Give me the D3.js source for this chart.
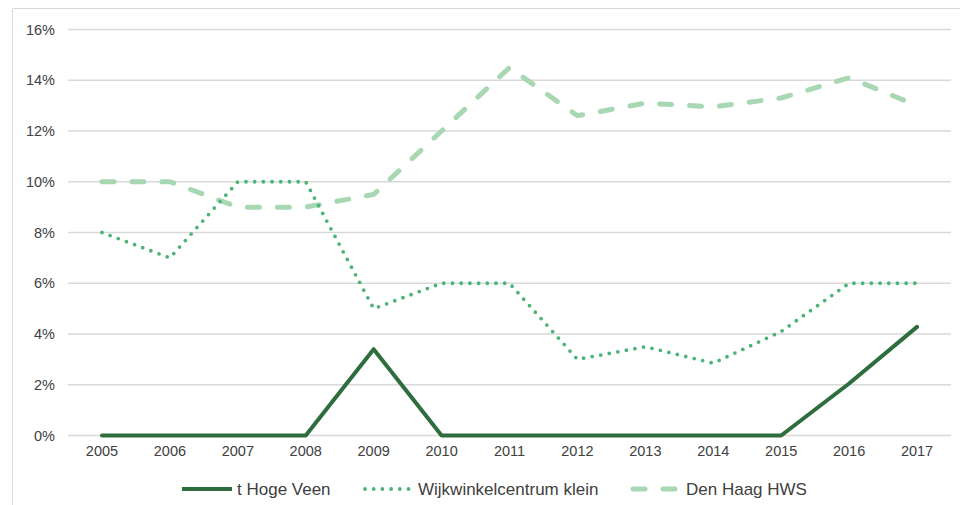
<!DOCTYPE html>
<html><head><meta charset="utf-8">
<script src="https://cdn.jsdelivr.net/npm/d3@7/dist/d3.min.js"></script>
<style>body{margin:0;background:#fff;}svg{display:block;font-family:"Liberation Sans",Arial,sans-serif;}</style>
</head><body><svg id="c" width="960" height="505"></svg>
<script>
const years = ["2005","2006","2007","2008","2009","2010","2011","2012","2013","2014","2015","2016","2017"];
const hogeVeen = [0,0,0,0,3.4,0,0,0,0,0,0,2.05,4.28];
const wijkwinkel = [8,7,10,10,5,6,6,3,3.5,2.85,4.1,6,6];
const denHaag = [10,10,9,9,9.5,12,14.5,12.6,13.1,12.95,13.3,14.1,13];
const yTicks = [0,2,4,6,8,10,12,14,16];
const seriesNames = ["t Hoge Veen","Wijkwinkelcentrum klein","Den Haag HWS"];

const svg = d3.select("#c");
// outer frame
svg.append("path").attr("d","M12.5,505 V8.5 H960").attr("fill","none").attr("stroke","#d9d9d9").attr("stroke-width",1);

const x = d3.scaleBand().domain(years).range([68,951]);
const y = d3.scaleLinear().domain([0,16]).range([435.5,29.5]);
const cx = d => x(d) + x.bandwidth()/2;

// gridlines
svg.append("g").selectAll("line").data(yTicks).join("line")
  .attr("x1",68).attr("x2",951).attr("y1",d=>y(d)).attr("y2",d=>y(d))
  .attr("stroke","#d9d9d9").attr("stroke-width",1.3);

// y axis labels
const yAxis = d3.axisLeft(y).tickValues(yTicks).tickFormat(d=>d+"%").tickSize(0).tickPadding(0);
const gy = svg.append("g").attr("transform","translate(55,0)").call(yAxis);
gy.select(".domain").remove();
gy.selectAll("text").attr("font-size","14.5px").attr("fill","#404040").attr("font-family","Liberation Sans, Arial, sans-serif");

// x axis labels
const xAxis = d3.axisBottom(x).tickSize(0).tickPadding(0);
const gx = svg.append("g").attr("transform","translate(0,446)").call(xAxis);
gx.select(".domain").remove();
gx.selectAll("text").attr("font-size","14.5px").attr("fill","#404040").attr("font-family","Liberation Sans, Arial, sans-serif");

const styles = [
  {color:"#2e6d3d", width:4, dash:null, data:hogeVeen},
  {color:"#4cb479", width:3.8, dash:"0 8.7", data:wijkwinkel},
  {color:"#a8d8b3", width:5, dash:"12 18", data:denHaag}
];

const order = [2,1,0];
order.forEach(i=>{
  const s = styles[i];
  const line = d3.line().x((d,j)=>cx(years[j])).y(d=>y(d)).curve(d3.curveLinear);
  svg.append("path").datum(s.data).attr("d",line).attr("fill","none")
    .attr("stroke",s.color).attr("stroke-width",s.width)
    .attr("stroke-linecap","round").attr("stroke-linejoin","round")
    .attr("stroke-dasharray",s.dash);
});

// legend
const legX = [182,365,633];
const legLen = [50,48,48];
const leg = svg.append("g");
seriesNames.forEach((n,i)=>{
  const s = styles[i];
  leg.append("line").attr("x1",legX[i]).attr("x2",legX[i]+legLen[i]).attr("y1",489).attr("y2",489)
    .attr("stroke",s.color).attr("stroke-width",s.width).attr("stroke-linecap", i===0?"butt":"round")
    .attr("stroke-dasharray",s.dash);
  leg.append("text").attr("x",legX[i]+legLen[i]+5).attr("y",489).attr("dy","0.35em")
    .attr("font-size","17px").attr("fill","#404040").text(n);
});
</script></body></html>
